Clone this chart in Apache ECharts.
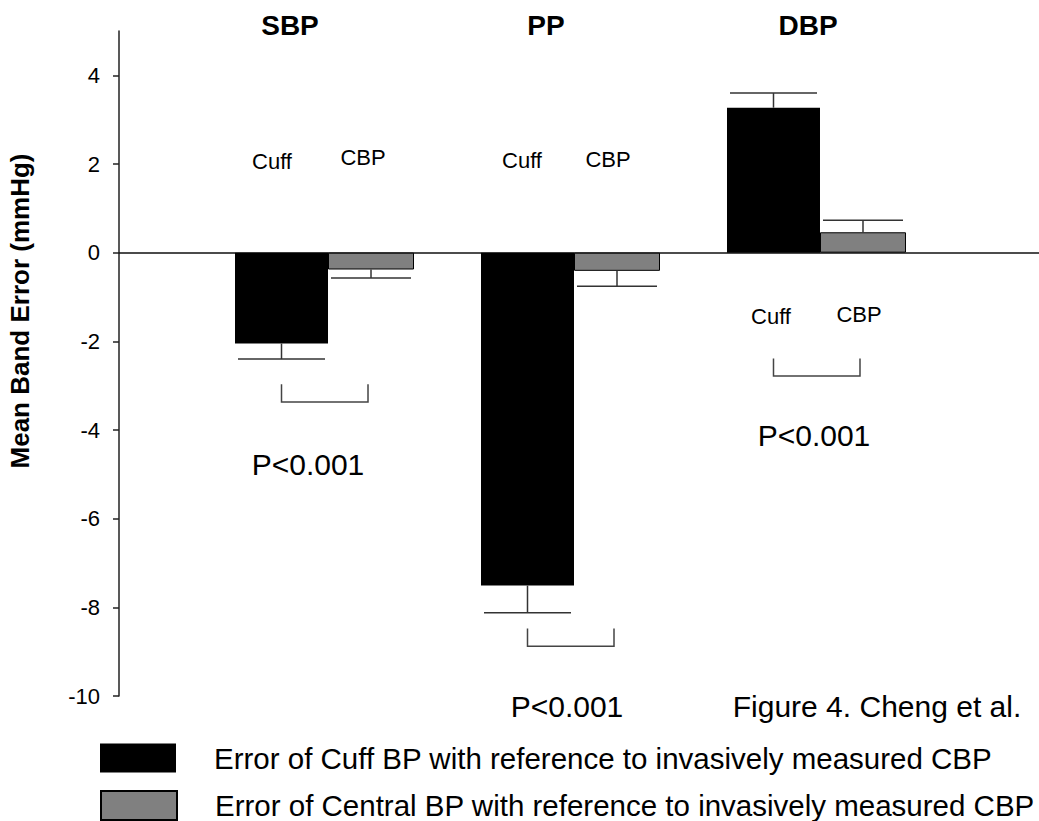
<!DOCTYPE html>
<html>
<head>
<meta charset="utf-8">
<script src="https://cdn.jsdelivr.net/npm/echarts@6/dist/echarts.min.js"></script>
<style>
html,body{margin:0;padding:0;background:#fff;}
#chart{width:1039px;height:821px;}
</style>
</head>
<body>
<div id="chart"></div>
<script>
// ---- data ----
const groups = ['SBP', 'PP', 'DBP'];
const cuffMean = [-2.05, -7.51, 3.27];
const cuffErr = [-2.40, -8.12, 3.60];
const cbpMean = [-0.38, -0.41, 0.46];
const cbpErr = [-0.57, -0.76, 0.73];
const bracketTop = [-2.97, -8.48, -2.39];
const bracketBottom = [-3.37, -8.88, -2.78];
const yTicks = [-10, -8, -6, -4, -2, 0, 2, 4];
const seriesNames = [
  'Error of Cuff BP with reference to invasively measured CBP',
  'Error of Central BP with reference to invasively measured CBP'
];
const barLabels = ['Cuff', 'CBP'];
const pText = 'P<0.001';
const figText = 'Figure 4. Cheng et al.';
const yName = 'Mean Band Error (mmHg)';

// ---- layout constants ----
const FONT = '"Liberation Sans", Arial, Helvetica, sans-serif';
const W_CUFF = 93, W_CBP = 86;
const TOTAL = W_CUFF + W_CBP;
function barCenterOffset(k) {
  return k === 0 ? -TOTAL / 2 + W_CUFF / 2 : -TOTAL / 2 + W_CUFF + W_CBP / 2;
}

const errData = [];
groups.forEach((g, i) => {
  errData.push([i, cuffMean[i], cuffErr[i], 0]);
  errData.push([i, cbpMean[i], cbpErr[i], 1]);
});
const bracketData = groups.map((g, i) => [i, bracketTop[i], bracketBottom[i]]);

const chart = echarts.init(document.getElementById('chart'), null, {renderer: 'svg'});

function txt(text, x, y, size, weight) {
  return {
    type: 'text', x: x, y: y, silent: true,
    style: {text: text, fill: '#000', fontSize: size, fontWeight: weight || 'normal',
      fontFamily: FONT, align: 'center', verticalAlign: 'middle'}
  };
}

function legendCfg(name, top) {
  return {
    orient: 'vertical', left: 100, top: top, padding: 0,
    itemWidth: 76, itemHeight: 29, icon: 'rect',
    selectedMode: false,
    textStyle: {fontSize: 29.5, color: '#000', fontFamily: FONT, padding: [0, 0, 0, 33]},
    data: [name]
  };
}

const option = {
  backgroundColor: '#fff',
  animation: false,
  grid: {left: 119, right: 0, top: 31, bottom: 125, containLabel: false},
  xAxis: {
    type: 'value', min: -0.8354, max: 2.9045,
    axisLine: {show: true, onZero: true, lineStyle: {color: '#111', width: 1.5}},
    axisTick: {show: false}, axisLabel: {show: false}, splitLine: {show: false}
  },
  yAxis: {
    type: 'value', min: -10, max: 5, interval: 2,
    axisLine: {show: true, onZero: false, lineStyle: {color: '#222', width: 1.5}},
    axisTick: {show: true, inside: false, length: 6, lineStyle: {color: '#222', width: 1.5}, customValues: yTicks},
    axisLabel: {show: true, fontSize: 22, color: '#000', fontFamily: FONT, margin: 19,
      customValues: yTicks,
      formatter: v => (v > 4.5 ? '' : String(v))},
    splitLine: {show: false}
  },
  legend: [legendCfg(seriesNames[0], 743), legendCfg(seriesNames[1], 790)],
  series: [
    {
      name: seriesNames[0], type: 'bar', barWidth: W_CUFF, barGap: '0%',
      itemStyle: {color: '#000'},
      data: cuffMean.map((v, i) => [i, v]), z: 2
    },
    {
      name: seriesNames[1], type: 'bar', barWidth: W_CBP, barGap: '0%',
      itemStyle: {color: '#808080', borderColor: '#000', borderWidth: 1},
      data: cbpMean.map((v, i) => [i, v]), z: 2
    },
    {
      name: 'errors', type: 'custom', silent: true, z: 3,
      encode: {x: 0, y: [1, 2]},
      data: errData,
      renderItem: function (params, api) {
        const i = api.value(0), v = api.value(1), e = api.value(2), k = api.value(3);
        const base = api.coord([i, 0]);
        const cx = base[0] + barCenterOffset(k);
        const w = k === 0 ? W_CUFF : W_CBP;
        const y1 = api.coord([i, v])[1];
        const y2 = api.coord([i, e])[1];
        const st = {stroke: '#333', lineWidth: 1.5};
        return {type: 'group', children: [
          {type: 'line', shape: {x1: cx, y1: y1, x2: cx, y2: y2}, style: st},
          {type: 'line', shape: {x1: cx - w / 2 + 3, y1: y2, x2: cx + w / 2 - 3, y2: y2}, style: st}
        ]};
      }
    },
    {
      name: 'brackets', type: 'custom', silent: true, z: 3,
      encode: {x: 0, y: [1, 2]},
      data: bracketData,
      renderItem: function (params, api) {
        const i = api.value(0), t = api.value(1), b = api.value(2);
        const base = api.coord([i, 0]);
        const xl = base[0] + barCenterOffset(0);
        const xr = base[0] + barCenterOffset(1) - 3;
        const yt = api.coord([i, t])[1];
        const yb = api.coord([i, b])[1];
        return {type: 'polyline', shape: {points: [[xl, yt], [xl, yb], [xr, yb], [xr, yt]]},
          style: {stroke: '#444', lineWidth: 1.5, fill: null}};
      }
    }
  ],
  graphic: [
    txt(groups[0], 290, 25, 28, 'bold'),
    txt(groups[1], 546, 25, 28, 'bold'),
    txt(groups[2], 808, 25, 28, 'bold'),
    txt(barLabels[0], 272, 161, 22),
    txt(barLabels[1], 363, 157, 22),
    txt(barLabels[0], 522, 160, 22),
    txt(barLabels[1], 608, 159, 22),
    txt(barLabels[0], 771, 316, 22),
    txt(barLabels[1], 859, 314, 22),
    txt(pText, 308, 464, 30),
    txt(pText, 567, 706, 30),
    txt(pText, 814, 435, 30),
    txt(figText, 877, 706, 30),
    {
      type: 'text', x: 20, y: 311, rotation: Math.PI / 2, silent: true,
      style: {text: yName, fill: '#000', fontSize: 26, fontWeight: 'bold', fontFamily: FONT,
        align: 'center', verticalAlign: 'middle'}
    }
  ]
};
chart.setOption(option);
</script>
</body>
</html>
